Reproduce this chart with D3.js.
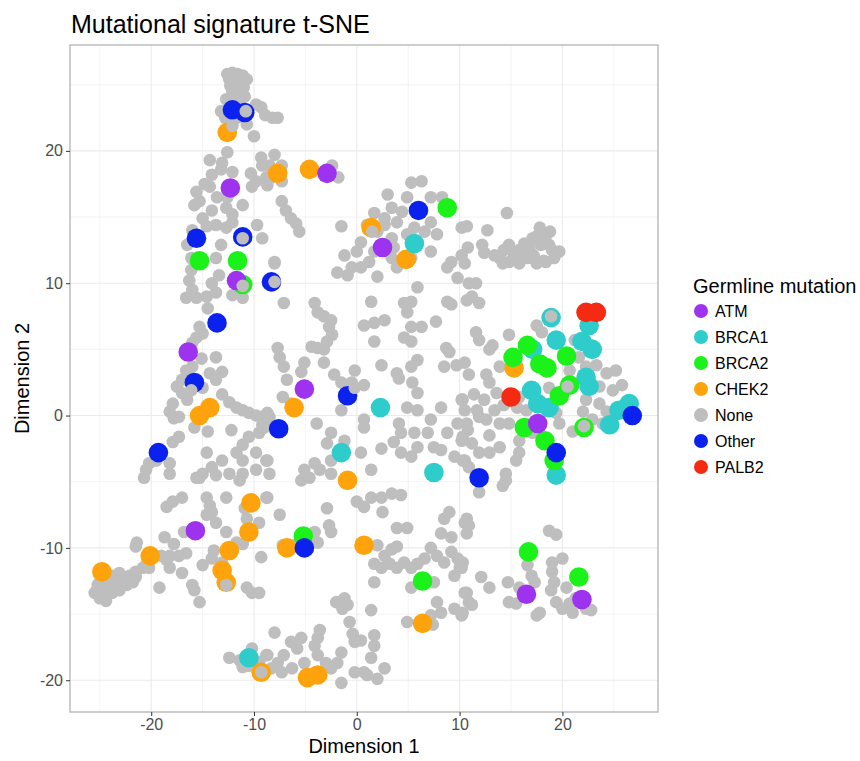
<!DOCTYPE html>
<meta charset="utf-8">
<style>
body { margin: 0; background: #fff; }
text { font-family: "Liberation Sans", Arial, sans-serif; }
.grid line { stroke: #ebebeb; }
.grid .minor { stroke-width: 0.6; }
.grid .major { stroke-width: 1.1; }
.axis text { fill: #4d4d4d; font-size: 16px; }
.axis line { stroke: #333; }
.axis path { display: none; }
.title { font-size: 25px; fill: #000; }
.axis-title { font-size: 20px; fill: #000; }
.legend-title { font-size: 20px; fill: #000; }
.legend-label { font-size: 16px; fill: #000; }
</style>
<svg width="860" height="761"></svg>
<script src="https://cdn.jsdelivr.net/npm/d3@7"></script>
<script>

var xTicks = [-20, -10, 0, 10, 20],
    yTicks = [-20, -10, 0, 10, 20],
    xMinor = [-25, -15, -5, 5, 15, 25],
    yMinor = [-15, -5, 5, 15, 25];

var groups = ["ATM", "BRCA1", "BRCA2", "CHEK2", "None", "Other", "PALB2"];
var colors = ["#9d33ee", "#2fcccc", "#1af21a", "#ffa30d", "#bebebe", "#0b22ee", "#f42a12"];

// grey "None" samples
var none = [
  [-12.6,25.8],[-12.1,25.9],[-11.6,25.8],[-11.1,25.7],[-12.4,25.4],[-11.8,25.4],[-11.2,25.2],[-10.7,25.4],[-12.3,24.9],[-11.7,24.8],[-11.0,24.8],[-12.1,24.5],[-11.4,24.4],[-11.9,24.0],[-10.9,24.1],[-12.7,23.9],[-11.4,23.6],
  [-13.2,23.0],[-12.8,22.5],[-11.8,23.4],[-11.7,22.5],[-10.7,22.0],[-10.0,21.1],[-9.3,23.3],[-8.9,22.7],[-8.2,22.5],[-7.7,22.5],[-9.8,23.5],
  [-12.6,19.9],[-14.3,19.3],[-13.1,19.1],[-12.1,18.4],[-14.1,18.2],[-13.2,18.6],[-10.3,18.3],[-9.3,19.5],[-9.2,18.9],[-9.8,17.7],[-8.8,18.0],[-10.2,17.3],[-14.3,17.3],[-13.6,16.5],[-12.6,16.5],[-11.1,15.9],[-12.7,15.7],[-12.1,15.2],[-15.6,16.9],[-15.8,15.9],[-15.3,16.2],[-14.1,15.5],[-15.0,14.9],[-14.6,14.3],[-13.7,14.4],[-12.7,14.2],[-12.1,14.6],[-9.7,14.4],[-9.2,13.4],[-13.2,12.9],[-13.7,11.9],[-14.8,17.5],[-16.0,14.0],
  [-8.0,19.7],[-8.5,18.9],[-7.3,18.9],[-8.3,18.0],[-7.3,17.7],[-8.7,17.4],[-2.4,18.9],[-1.8,18.0],[-7.3,16.2],[-6.9,15.5],[-6.4,14.9],[-5.9,14.5],[-5.6,13.9],[-1.5,14.3],[-8.0,11.6],
  [5.3,17.6],[6.3,17.7],[3.0,16.7],[4.9,16.5],[7.2,16.5],[8.3,16.5],[3.4,15.7],[1.7,15.3],[4.4,15.4],[1.0,14.4],[2.7,14.9],[3.9,14.6],[5.6,14.2],[7.2,14.6],[7.8,13.7],[10.2,14.2],[0.4,13.1],[2.0,13.9],[3.4,13.4],[4.9,13.7],[6.6,13.9],[-1.2,12.1],[0.0,12.4],[1.7,12.4],[3.4,11.9],[5.3,11.9],[7.2,12.4],[9.2,11.6],[10.2,12.1],[1.2,11.6],[-0.5,11.2],[3.6,12.7],[2.7,14.4],
  [14.6,15.3],[10.7,14.3],[12.7,14.0],[10.8,12.7],[12.2,12.9],[12.4,12.3],[19.7,12.4],[14.3,12.5],[14.8,12.9],[15.3,12.1],[15.8,12.5],[16.3,13.0],[16.8,12.6],[17.1,13.4],[17.6,13.6],[18.1,13.4],[18.4,13.6],[17.9,12.9],[18.7,12.9],[19.0,12.5],[17.2,12.1],[16.6,11.9],[15.8,11.6],[18.2,11.7],[19.2,11.9],[14.8,11.6],[13.9,11.9],[13.4,12.1],[17.8,14.2],[18.8,13.9],
  [-16.1,11.0],[-16.3,10.2],[-16.0,9.5],[-16.6,8.9],[-15.6,8.9],[-14.6,9.0],[-13.7,9.3],[-14.1,10.0],[-13.4,10.6],[-14.5,8.1],[-12.1,9.1],[-11.1,8.9],[-16.5,12.9],[-16.1,11.9],
  [-15.3,6.7],[-15.0,6.2],[-15.6,5.9],[-16.0,5.5],
  [-15.1,4.3],[-13.7,4.4],[-16.0,3.7],[-16.6,3.4],[-14.3,3.2],[-13.1,3.3],[-13.7,2.7],[-17.0,2.7],[-17.5,2.2],[-17.0,1.7],[-16.5,1.2],[-15.0,2.1],[-13.1,1.6],[-12.4,1.0],[-11.7,0.6],[-11.1,0.4],[-10.5,0.2],[-9.8,0.0],[-9.2,-0.1],[-8.5,-0.1],
  [-17.9,0.9],[-18.2,0.3],[-17.8,-0.2],[-17.3,-0.1],[-15.8,-0.9],[-14.5,-1.2],[-12.2,-1.1],
  [-17.3,-1.6],[-17.9,-2.0],[-14.6,-2.8],[-11.7,-2.8],[-11.1,-2.2],[-10.5,-1.6],[-9.5,-1.3],[-9.2,-0.7],[-8.5,-0.6],[-9.8,-2.8],[-8.8,-3.4],[-11.1,-3.4],[-13.1,-3.4],[-14.1,-3.9],[-15.0,-4.4],[-15.6,-4.7],[-12.4,-4.4],[-11.1,-4.4],[-9.8,-4.1],[-20.2,-3.6],[-20.5,-4.1],[-18.2,-3.6],[-19.5,-3.4],[-18.2,-4.4],[-20.7,-4.7],
  [-8.0,11.5],[-1.9,10.8],[-0.9,10.6],[0.4,11.2],[2.0,10.5],[3.9,11.2],[5.9,9.7],[8.8,11.2],[9.8,10.4],[10.5,11.5],
  [-7.1,8.5],[-4.1,8.5],[-3.8,7.8],[-3.2,7.5],[-2.5,7.2],[-2.7,6.7],[-2.4,6.1],[-2.9,5.6],[-3.2,5.0],[-3.8,5.1],[-4.4,5.2],[-7.7,5.1],[-7.5,4.4],[-7.1,3.7],[-5.1,4.0],[-5.4,3.3],[-3.2,4.0],[-2.2,3.1],[-0.2,3.4],[-1.5,2.5],[-0.5,2.5],[0.7,2.3],[1.4,8.6],[0.7,6.8],[1.7,7.0],[2.7,7.2],[1.7,5.6],[4.6,8.5],[5.3,8.6],[4.9,7.8],[5.3,6.7],[6.3,6.7],[4.6,5.9],[5.3,5.6],[7.7,7.1],[8.8,8.6],[9.2,8.4],[8.7,5.1],[9.0,4.8],[8.5,3.7],[9.7,3.8],[10.5,4.0],[5.3,3.7],[5.9,4.2],[2.4,3.8],[3.9,3.2],[4.1,2.8],[5.4,2.5],[5.9,1.7],[4.9,0.6],[5.9,0.4],[8.2,0.6],[10.2,1.2],[10.5,0.4],
  [-6.8,2.7],[-7.2,1.4],[-6.4,0.9],[-8.7,0.2],[-9.0,-0.9],
  [-1.5,0.4],[-3.9,-0.6],[0.7,-0.3],[0.7,-0.9],[-2.5,-1.3],[-2.9,-2.1],[-1.2,-1.9],[0.4,-2.8],[2.4,-2.5],[3.6,-2.0],[4.1,-0.6],[4.3,-1.3],[4.3,-2.8],[5.6,-1.3],[5.9,-2.4],[5.3,-3.1],[7.2,-0.3],[6.9,-1.3],[7.5,-2.4],[8.8,-1.3],[9.8,-0.6],[10.2,-1.9],[9.5,-3.1],[10.5,-3.4],[8.2,-2.6],[-8.7,-3.4],[-8.5,-4.4],[-5.1,-4.1],[-4.1,-3.6],[-3.6,-4.1],[-2.5,-3.4],[-2.5,-4.4],[1.4,-4.1],
  [14.2,11.5],[15.8,11.5],[17.5,11.5],[18.4,11.6],[10.9,10.0],[11.6,10.0],[10.7,8.7],[11.2,9.0],[11.9,8.5],
  [17.5,6.8],[18.0,6.3],[14.8,6.1],[11.6,6.3],[11.9,5.7],[13.2,5.3],[12.9,5.0],[21.2,5.7],[22.8,5.3],
  [20.7,3.4],[21.6,4.4],[22.3,3.7],[23.3,3.8],[24.3,3.2],[25.2,3.4],[13.9,3.7],[10.9,3.1],[12.6,3.1],[12.9,2.5],[13.6,1.7],[10.3,1.2],
  [23.6,2.2],[24.9,1.9],[25.8,2.3],[18.7,2.1],[15.8,1.4],[15.6,0.6],[18.0,0.9],[16.5,0.4],
  [23.6,0.9],[24.3,0.3],[24.9,-0.1],[23.9,-0.6],[22.3,1.2],[22.0,0.3],[22.9,-0.3],
  [19.4,0.2],[19.7,-0.6],[21.0,-1.2],[17.1,-1.3],[15.8,-1.9],[14.8,-0.6],[13.9,-0.6],[11.9,-0.1],[12.6,-0.3],[10.7,-0.6],[10.3,-1.6],[11.2,-2.1],[11.9,-2.8],[13.9,-2.4],[12.9,-2.8],[15.8,-2.8],[14.5,-4.4],[15.5,-3.4],[10.3,-3.4],[10.9,-3.9],
  [11.4,1.6],[12.4,1.2],[13.4,0.4],[14.3,0.8],[11.7,0.4],[10.8,-1.1],[12.9,-1.5],
  [-15.3,-4.7],[-13.7,-4.5],[-11.4,-4.9],
  [-18.5,-6.9],[-17.9,-6.5],[-17.0,-6.2],[-14.6,-6.2],[-14.3,-6.8],[-14.1,-7.3],[-12.7,-6.2],[-14.6,-7.5],[-13.7,-8.1],[-12.7,-8.8],[-10.9,-7.0],[-10.7,-7.8],[-9.5,-8.1],[-8.8,-6.2],[-16.8,-8.8],
  [-18.7,-9.2],[-21.4,-9.6],[-21.5,-9.9],[-17.8,-9.7],[-18.2,-10.6],[-16.6,-10.4],[-17.3,-10.6],[-19.0,-10.6],[-18.5,-10.9],[-20.5,-11.3],
  [-11.1,-9.7],[-11.7,-9.6],[-13.9,-10.2],[-13.1,-11.1],[-15.0,-11.3],[-14.1,-10.8],
  [-25.3,-13.2],[-24.7,-13.0],[-24.1,-12.8],[-23.4,-12.6],[-22.8,-12.3],[-22.1,-12.1],[-21.5,-11.8],[-20.8,-11.5],[-20.2,-11.5],[-24.7,-13.6],[-24.4,-14.0],[-23.8,-13.4],[-23.1,-13.2],[-22.4,-12.8],[-21.8,-12.6],[-25.0,-12.6],[-24.4,-12.3],[-23.8,-12.1],[-23.1,-11.9],[-25.2,-12.8],[-24.1,-13.2],[-23.4,-13.0],[-22.8,-12.7],[-22.1,-12.4],[-21.5,-12.2],[-25.5,-13.4],[-25.0,-13.8],
  [-18.2,-11.5],[-17.0,-11.9],[-16.0,-12.8],[-15.8,-13.2],[-15.3,-14.1],[-19.2,-13.0],[-10.7,-13.0],[-10.2,-13.4],[-9.5,-13.4],[-9.3,-10.7],
  [-12.4,-18.3],[-11.4,-18.5],[-10.2,-17.6],[-9.5,-18.6],[-8.8,-18.1],[-10.5,-18.9],[-11.1,-19.0],
  [-5.4,-4.9],[-4.6,-4.7],[-8.7,-6.2],[-7.5,-7.5],[-2.9,-7.0],[-2.7,-8.3],[-2.5,-8.8],[0.0,-6.5],[0.7,-6.9],[1.4,-6.2],[2.4,-6.2],[3.4,-5.9],[4.3,-6.0],[2.5,-7.3],[3.9,-8.5],[4.9,-8.5],[8.5,-7.8],[9.0,-7.3],[8.2,-8.9],[9.2,-9.2],[10.5,-8.1],
  [-7.2,-9.8],[-6.1,-9.8],[-3.8,-9.6],[-4.1,-8.8],
  [2.0,-9.8],[2.7,-10.6],[1.7,-11.2],[3.4,-10.1],[3.9,-9.9],[4.6,-11.1],[5.3,-11.5],[5.9,-11.2],[6.6,-10.8],[7.2,-10.0],[7.8,-10.6],[8.5,-11.1],[9.2,-10.3],[9.8,-10.8],[10.2,-11.5],[9.5,-12.1],[7.5,-12.6],[5.3,-13.0],[1.7,-12.6],[3.2,-11.2],[2.4,-11.5],[3.9,-11.5],
  [7.8,-14.1],[8.2,-14.9],[7.2,-15.1],[9.5,-14.6],[10.5,-13.4],[10.2,-15.1],[4.9,-15.6],[7.4,-15.8],
  [-2.0,-14.1],[-1.2,-13.8],[-0.9,-14.3],[-1.4,-14.6],[1.4,-14.7],[-0.7,-15.6],[-0.4,-16.5],[-0.2,-17.1],[0.4,-17.0],[1.7,-16.6],[1.7,-17.4],[1.4,-18.3],[2.7,-19.1],[0.7,-19.4],[1.0,-19.6],[2.0,-19.9],[-0.2,-19.4],[-1.5,-17.9],[-1.9,-18.7],[-2.5,-19.1],[-3.6,-16.2],[-3.8,-16.8],[-4.1,-17.4],[-3.8,-18.1],[-5.4,-16.8],[-5.8,-17.6],[-6.4,-17.1],[-7.1,-18.1],[-7.7,-18.7],[-8.0,-16.4],[-8.7,-18.1],[-8.3,-19.1],[-7.3,-19.4],[-6.3,-19.1],[-1.5,-20.2],[-5.1,-18.7],[-3.0,-18.7],
  [14.5,-4.9],[14.2,-5.3],[11.9,-5.8],[10.7,-7.8],[10.9,-8.3],[10.7,-8.9],[18.7,-8.7],[19.4,-9.0],[10.3,-11.1],[10.0,-11.5],
  [16.6,-11.3],[17.0,-12.1],[17.3,-12.6],[14.7,-12.6],[12.9,-13.0],[12.1,-12.2],[10.7,-13.4],[10.9,-14.1],[10.3,-14.9],[11.2,-14.3],[14.8,-14.1],[15.5,-14.2],[15.8,-13.0],[17.5,-15.1],[17.8,-14.9],[19.0,-11.1],[20.0,-10.8],[19.0,-11.8],[19.2,-12.6],[18.9,-13.2],[19.4,-14.1],[20.0,-14.6],[21.0,-14.9],[22.3,-14.6],[22.8,-14.7],[20.7,-14.2],[21.3,-13.8],[20.4,-13.0]
];

// grey samples plotted after some carriers (they sit on top of them)
var noneTop = [
  [-10.8,23.0],[-11.1,13.4],[-11.1,9.8],[-8.0,10.1],[-12.7,-12.8],[-9.3,-19.4],[22.1,-0.8],
  [20.5,2.2],[18.9,7.5],[-0.2,2.1],[1.5,13.9],[-16.1,1.9],[-12.1,21.9]
];

var atm = [[-12.3,17.2],[-2.9,18.3],[2.5,12.7],[-11.7,10.2],[-16.4,4.8],[-5.1,2.0],[17.6,-0.6],[-15.7,-8.7],[16.5,-13.5],[21.9,-13.9]];

var brca1 = [[18.9,7.4],[22.6,6.8],[19.4,5.7],[17.1,5.0],[21.9,5.6],[22.9,5.0],[22.3,2.9],[22.6,2.2],[17.0,1.9],[17.6,0.9],
  [18.7,0.6],[26.5,0.9],[25.5,0.4],[24.6,-0.7],[19.4,-4.5],[7.5,-4.3],[-1.5,-2.8],[2.3,0.6],[5.6,13.0],[-10.5,-18.3]];

var brca2 = [[8.8,15.7],[-15.3,11.7],[-11.6,11.7],[-11.1,9.9],[16.6,5.3],[15.2,4.4],[20.4,4.5],[17.8,3.9],[18.5,3.6],[20.7,2.3],
  [19.7,1.5],[22.1,-0.9],[16.3,-0.9],[18.3,-1.9],[19.2,-3.4],[-5.2,-9.1],[6.4,-12.5],[16.7,-10.3],[21.6,-12.2]];

var chek2 = [[-12.6,21.4],[-7.7,18.3],[-4.6,18.6],[4.8,11.8],[1.4,14.2],[15.3,3.6],[-15.3,0.0],[-14.3,0.6],[-6.1,0.6],[-0.9,-4.9],
  [-10.3,-6.6],[-10.5,-8.8],[-20.1,-10.6],[-12.4,-10.2],[-13.1,-11.7],[-12.7,-12.6],[-24.8,-11.8],[-6.8,-10.0],[0.7,-9.8],[6.4,-15.7],
  [-4.8,-19.8],[-3.8,-19.6],[-9.3,-19.4]];

var other = [[-12.1,23.1],[-10.9,22.9],[6.0,15.5],[-15.6,13.4],[-11.1,13.5],[-8.3,10.1],[-13.6,7.0],[-15.8,2.5],[-0.9,1.5],[-7.6,-1.0],
  [-19.3,-2.8],[11.9,-4.7],[19.4,-2.8],[26.8,0.0],[-5.1,-10.0]];

var palb2 = [[22.3,7.8],[23.3,7.8],[15.0,1.4]];

var svg = d3.select("svg"),
    panel = {left: 70, right: 658, top: 45, bottom: 712};

var x = d3.scaleLinear().domain([-27.9, 29.3]).range([panel.left, panel.right]),
    y = d3.scaleLinear().domain([-22.4, 28.0]).range([panel.bottom, panel.top]);

var color = d3.scaleOrdinal().domain(groups).range(colors);

// title
svg.append("text")
    .attr("class", "title")
    .attr("x", 71)
    .attr("y", 33)
    .text("Mutational signature t-SNE");

// grid lines
var grid = svg.append("g").attr("class", "grid");

function vlines(vals, cls) {
  grid.selectAll("." + cls + "v").data(vals).enter().append("line")
      .attr("class", cls)
      .attr("x1", function(d) { return x(d); }).attr("x2", function(d) { return x(d); })
      .attr("y1", panel.top).attr("y2", panel.bottom);
}
function hlines(vals, cls) {
  grid.selectAll("." + cls + "h").data(vals).enter().append("line")
      .attr("class", cls)
      .attr("y1", function(d) { return y(d); }).attr("y2", function(d) { return y(d); })
      .attr("x1", panel.left).attr("x2", panel.right);
}
vlines(xMinor, "minor");
hlines(yMinor, "minor");
vlines(xTicks, "major");
hlines(yTicks, "major");

// points
function dots(data, group, r) {
  svg.append("g").selectAll("circle")
    .data(data)
    .enter().append("circle")
      .attr("cx", function(d) { return x(d[0]); })
      .attr("cy", function(d) { return y(d[1]); })
      .attr("r", r)
      .attr("fill", color(group));
}

dots(none, "None", 6.3);
dots(chek2, "CHEK2", 9.8);
dots(brca1, "BRCA1", 9.8);
dots(brca2, "BRCA2", 9.8);
dots(atm, "ATM", 9.8);
dots(other, "Other", 9.8);
dots(palb2, "PALB2", 9.8);
dots(noneTop, "None", 6.3);

// panel border
svg.append("rect")
    .attr("x", panel.left).attr("y", panel.top)
    .attr("width", panel.right - panel.left).attr("height", panel.bottom - panel.top)
    .attr("fill", "none")
    .attr("stroke", "#b3b3b3")
    .attr("stroke-width", 1.3);

// axes
var fmt = function(d) { return String(d); };

svg.append("g")
    .attr("class", "axis")
    .attr("transform", "translate(0," + panel.bottom + ")")
    .call(d3.axisBottom(x).tickValues(xTicks).tickFormat(fmt).tickSize(4).tickPadding(3));

svg.append("g")
    .attr("class", "axis")
    .attr("transform", "translate(" + panel.left + ",0)")
    .call(d3.axisLeft(y).tickValues(yTicks).tickFormat(fmt).tickSize(4).tickPadding(3));

svg.append("text")
    .attr("class", "axis-title")
    .attr("x", (panel.left + panel.right) / 2)
    .attr("y", 753)
    .attr("text-anchor", "middle")
    .text("Dimension 1");

svg.append("text")
    .attr("class", "axis-title")
    .attr("transform", "translate(29," + (panel.top + panel.bottom) / 2 + ") rotate(-90)")
    .attr("text-anchor", "middle")
    .text("Dimension 2");

// legend
var legend = svg.append("g").attr("transform", "translate(693,0)");

legend.append("text")
    .attr("class", "legend-title")
    .attr("x", 0)
    .attr("y", 293)
    .text("Germline mutation");

var item = legend.selectAll(".item")
    .data(groups)
    .enter().append("g")
      .attr("transform", function(d, i) { return "translate(0," + (311 + i * 26) + ")"; });

item.append("circle")
    .attr("cx", 8)
    .attr("r", 7)
    .attr("fill", function(d) { return color(d); });

item.append("text")
    .attr("class", "legend-label")
    .attr("x", 22)
    .attr("dy", "0.36em")
    .text(function(d) { return d; });

</script>
